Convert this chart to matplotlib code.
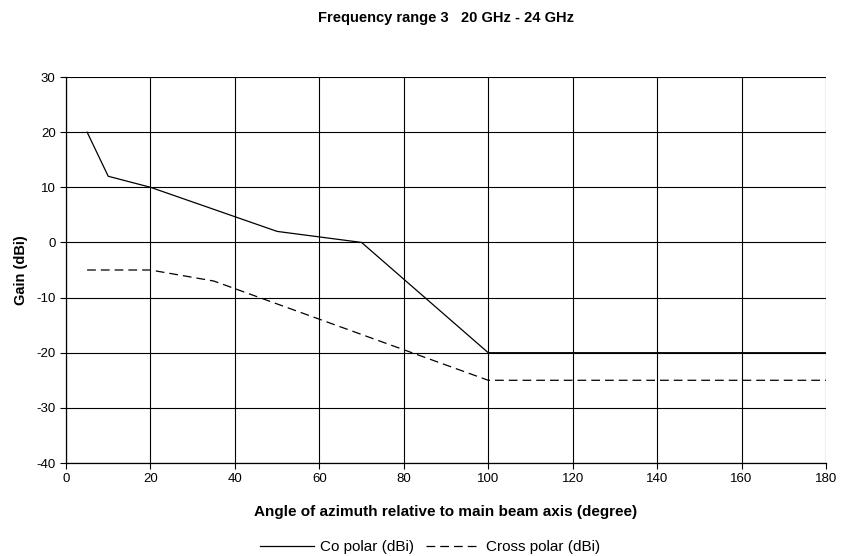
import matplotlib
matplotlib.use("Agg")
import matplotlib.pyplot as plt

plt.rcParams['font.family'] = ['Liberation Sans', 'DejaVu Sans']
plt.rcParams['axes.unicode_minus'] = False

co_x = [5, 10, 20, 50, 70, 100, 180]
co_y = [20, 12, 10, 2, 0, -20, -20]
cross_x = [5, 20, 35, 100, 180]
cross_y = [-5, -5, -7, -25, -25]
x_ticks = list(range(0, 181, 20))
y_ticks = list(range(-40, 31, 10))

fig = plt.figure(figsize=(8.43, 5.56), dpi=100)
ax = fig.add_axes([66/843, 1-463/556, (826-66)/843, (463-77)/556])

ax.plot(co_x, co_y, color='black', lw=0.9, label='Co polar (dBi)')
ax.plot(cross_x, cross_y, color='black', lw=0.9, ls=(0, (7, 4)), label='Cross polar (dBi)')

ax.set_xlim(0, 180)
ax.set_ylim(-40, 30)
ax.set_xticks(x_ticks)
ax.set_yticks(y_ticks)
ax.grid(True, color='black', lw=0.8)
ax.tick_params(direction='out', length=4, width=0.8, labelsize=9.5, colors='black')
for s in ['top', 'right']:
    ax.spines[s].set_visible(False)
for s in ['left', 'bottom']:
    ax.spines[s].set_linewidth(0.9)

ax.set_xlabel('Angle of azimuth relative to main beam axis (degree)', fontsize=11, fontweight='bold', labelpad=14)
ax.set_ylabel('Gain (dBi)', fontsize=10.5, fontweight='bold', labelpad=6)
fig.text(446/843, 1-18/556, 'Frequency range 3   20 GHz - 24 GHz', ha='center', va='center',
         fontsize=10.5, fontweight='bold')

leg = fig.legend(loc='center', bbox_to_anchor=(430/843, 1-547/556), ncol=2, frameon=False,
                 fontsize=11, handlelength=3.5, handletextpad=0.4, columnspacing=0.8,
                 borderpad=0.1)

fig.savefig('out.png', dpi=100)
